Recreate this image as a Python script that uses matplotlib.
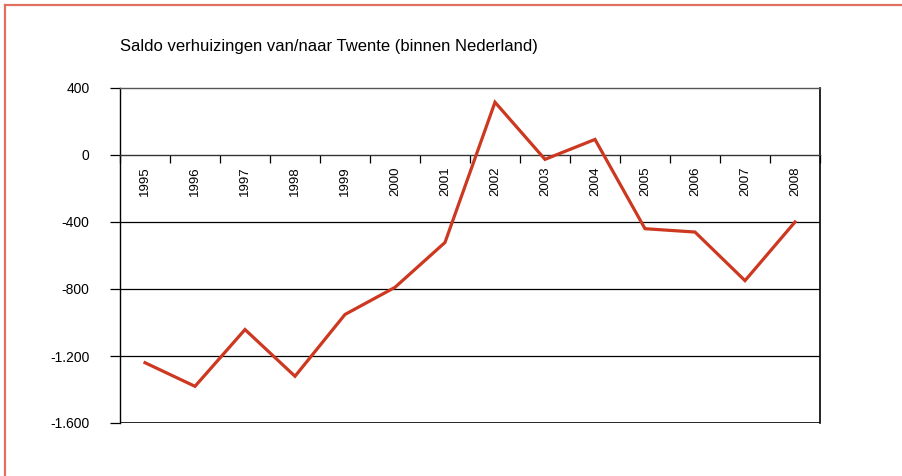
import matplotlib
matplotlib.use('Agg')
import matplotlib.pyplot as plt
from matplotlib.lines import Line2D

plt.rcParams['font.family'] = ['Liberation Sans', 'DejaVu Sans']

# data
years = ['1995', '1996', '1997', '1998', '1999', '2000', '2001',
         '2002', '2003', '2004', '2005', '2006', '2007', '2008']
saldo = [-1240, -1381, -1042, -1321, -952, -790, -522,
         315, -26, 93, -440, -460, -750, -400]
y_ticks = [400, 0, -400, -800, -1200, -1600]
y_labels = ['400', '0', '-400', '-800', '-1.200', '-1.600']
title = 'Saldo verhuizingen van/naar Twente (binnen Nederland)'

W, H = 903, 476
fig = plt.figure(figsize=(W / 100, H / 100), dpi=100)
ax = fig.add_axes([120 / W, 1 - 423 / H, 700 / W, 335 / H])

x = list(range(len(years)))
ax.plot(x, saldo, color='#CC3820', lw=2.3, solid_joinstyle='miter', zorder=3)

ax.set_xlim(-0.5, len(years) - 0.5)
ax.set_ylim(-1600, 400)

# horizontal gridlines
for v in y_ticks[2:-1]:
    ax.axhline(v, color='black', lw=0.9, zorder=1)
ax.axhline(-1600, color='black', lw=1.2, zorder=2)

# x axis sits on the zero line
ax.spines['bottom'].set_position(('data', 0))
ax.spines['bottom'].set_linewidth(1.0)
ax.spines['bottom'].set_color('#333333')
ax.spines['top'].set_color('#555555')
ax.spines['top'].set_linewidth(1.0)
ax.spines['left'].set_linewidth(1.0)
ax.spines['right'].set_linewidth(1.2)

ax.set_xticks(x)
ax.set_xticklabels(years, rotation=90, fontsize=9.5, va='top')
ax.set_xticks([i - 0.5 for i in x] + [len(years) - 0.5], minor=True)
ax.tick_params(axis='x', which='major', length=0, pad=8.5)
ax.tick_params(axis='x', which='minor', length=6, direction='out', width=0.9)

ax.set_yticks(y_ticks)
ax.set_yticklabels(y_labels, fontsize=10)
ax.tick_params(axis='y', length=7, direction='out', width=0.9, pad=15)

fig.text(120 / W, 1 - 47 / H, title, fontsize=12, va='center', ha='left')

# red frame lines of the report page
fig.add_artist(Line2D([5 / W, 1], [1 - 5 / H, 1 - 5 / H], color='#E07060', lw=1.6))
fig.add_artist(Line2D([5 / W, 5 / W], [0, 1 - 5 / H], color='#E07060', lw=1.6))

fig.savefig('out.png', dpi=100)
